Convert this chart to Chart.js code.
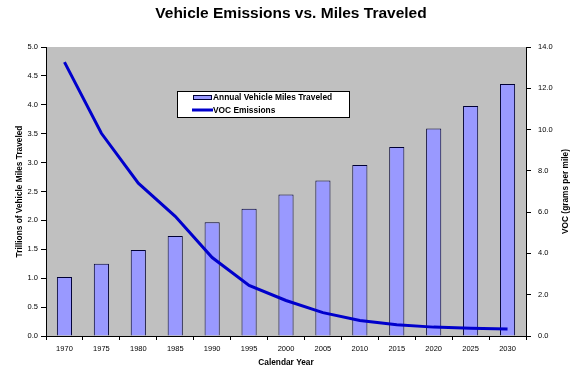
<!DOCTYPE html>
<html><head><meta charset="utf-8">
<style>html,body{margin:0;padding:0;background:#fff}#wrap{width:582px;height:373px}</style>
<script src="https://cdn.jsdelivr.net/npm/chart.js@4.4.1/dist/chart.umd.min.js"></script>
</head><body><div id="wrap"><canvas id="c" width="582" height="373"></canvas></div>
<script>
const years = ['1970','1975','1980','1985','1990','1995','2000','2005','2010','2015','2020','2025','2030'];
const milesTraveled = [1.02,1.25,1.49,1.73,1.97,2.20,2.45,2.69,2.96,3.27,3.59,3.98,4.36];
const vocEmissions = [13.27,9.82,7.40,5.80,3.80,2.45,1.72,1.13,0.75,0.54,0.43,0.38,0.34];
const leftTicksLabel = 'Trillions of Vehicle Miles Traveled';
const rightTicksLabel = 'VOC (grams per mile)';
const FONT = "'Liberation Sans', Arial, sans-serif";

const bgPlugin = {
  id: 'bg',
  beforeDraw(chart) {
    const {ctx, chartArea: a} = chart;
    ctx.save();
    ctx.fillStyle = '#c0c0c0';
    ctx.fillRect(a.left, a.top, a.right - a.left, a.bottom - a.top);
    ctx.restore();
  },
  afterDraw(chart) {
    const {ctx, chartArea: a} = chart;
    ctx.save();
    ctx.font = 'bold 8.3px ' + FONT;
    ctx.fillStyle = '#000';
    ctx.textAlign = 'center';
    ctx.textBaseline = 'middle';
    ctx.translate(566, (a.top + a.bottom) / 2);
    ctx.rotate(-Math.PI / 2);
    ctx.fillText(rightTicksLabel, 0, 0);
    ctx.restore();
    ctx.save();
    const x0 = 177, y0 = 91, w = 172, h = 26;
    ctx.fillStyle = '#fff';
    ctx.fillRect(x0, y0, w, h);
    ctx.strokeStyle = '#000';
    ctx.lineWidth = 1;
    ctx.strokeRect(x0 + 0.5, y0 + 0.5, w, h);
    const ds = chart.data.datasets;
    ctx.fillStyle = ds[0].backgroundColor;
    ctx.fillRect(193.5, 95.5, 18, 4);
    ctx.strokeStyle = '#000033';
    ctx.strokeRect(193.5, 95.5, 18, 4);
    ctx.strokeStyle = ds[1].borderColor;
    ctx.lineWidth = 3;
    ctx.beginPath();
    ctx.moveTo(192, 110);
    ctx.lineTo(213, 110);
    ctx.stroke();
    ctx.fillStyle = '#000';
    ctx.font = 'bold 8.4px ' + FONT;
    ctx.textAlign = 'left';
    ctx.textBaseline = 'middle';
    ctx.fillText(ds[0].label, 213, 97.5);
    ctx.fillText(ds[1].label, 213, 110.5);
    ctx.restore();
  }
};

new Chart(document.getElementById('c'), {
  type: 'bar',
  data: {
    labels: years,
    datasets: [
      {
        type: 'bar',
        label: 'Annual Vehicle Miles Traveled',
        data: milesTraveled,
        yAxisID: 'y',
        backgroundColor: '#9999ff',
        borderColor: '#000033',
        borderWidth: 1,
        barPercentage: 0.41,
        categoryPercentage: 1,
        order: 2
      },
      {
        type: 'line',
        label: 'VOC Emissions',
        data: vocEmissions,
        yAxisID: 'y2',
        borderColor: '#0000cc',
        backgroundColor: '#0000cc',
        borderWidth: 3,
        pointRadius: 0,
        tension: 0,
        order: 1
      }
    ]
  },
  options: {
    responsive: false,
    animation: false,
    layout: { padding: { left: 0, right: 0, top: 0, bottom: 0 } },
    plugins: {
      legend: { display: false },
      tooltip: { enabled: false },
      title: {
        display: true,
        text: 'Vehicle Emissions vs. Miles Traveled',
        color: '#000',
        font: { family: FONT, size: 15.5, weight: 'bold' },
        padding: { top: 4.5, bottom: 23.9 }
      }
    },
    scales: {
      x: {
        offset: true,
        afterFit(s) { s.height = 37; },
        grid: { display: true, offset: true, drawOnChartArea: false, color: '#000', tickLength: 4, tickWidth: 1 },
        border: { display: true, color: '#000', width: 1 },
        ticks: { color: '#000', font: { family: FONT, size: 7.5 }, padding: 4, maxRotation: 0, autoSkip: false },
        title: { display: true, text: 'Calendar Year', color: '#000', font: { family: FONT, size: 8.3, weight: 'bold' }, padding: { top: 5.5, bottom: 5.5 } }
      },
      y: {
        position: 'left',
        min: 0, max: 5,
        afterFit(s) { s.width = 46; },
        grid: { display: true, drawOnChartArea: false, color: '#000', tickLength: 5 },
        border: { display: true, color: '#000', width: 1 },
        ticks: { stepSize: 0.5, color: '#000', font: { family: FONT, size: 7.5 }, padding: 3, callback: v => v.toFixed(1) },
        title: { display: true, text: leftTicksLabel, color: '#000', font: { family: FONT, size: 8.3, weight: 'bold' }, padding: { top: 15, bottom: 15 } }
      },
      y2: {
        position: 'right',
        min: 0, max: 14,
        afterFit(s) { s.width = 56; },
        grid: { display: true, drawOnChartArea: false, color: '#000', tickLength: 5 },
        border: { display: true, color: '#000', width: 1 },
        ticks: { stepSize: 2, color: '#000', font: { family: FONT, size: 7.5 }, padding: 7, callback: v => v.toFixed(1) },
        title: { display: false }
      }
    }
  },
  plugins: [bgPlugin]
});
</script></body></html>
